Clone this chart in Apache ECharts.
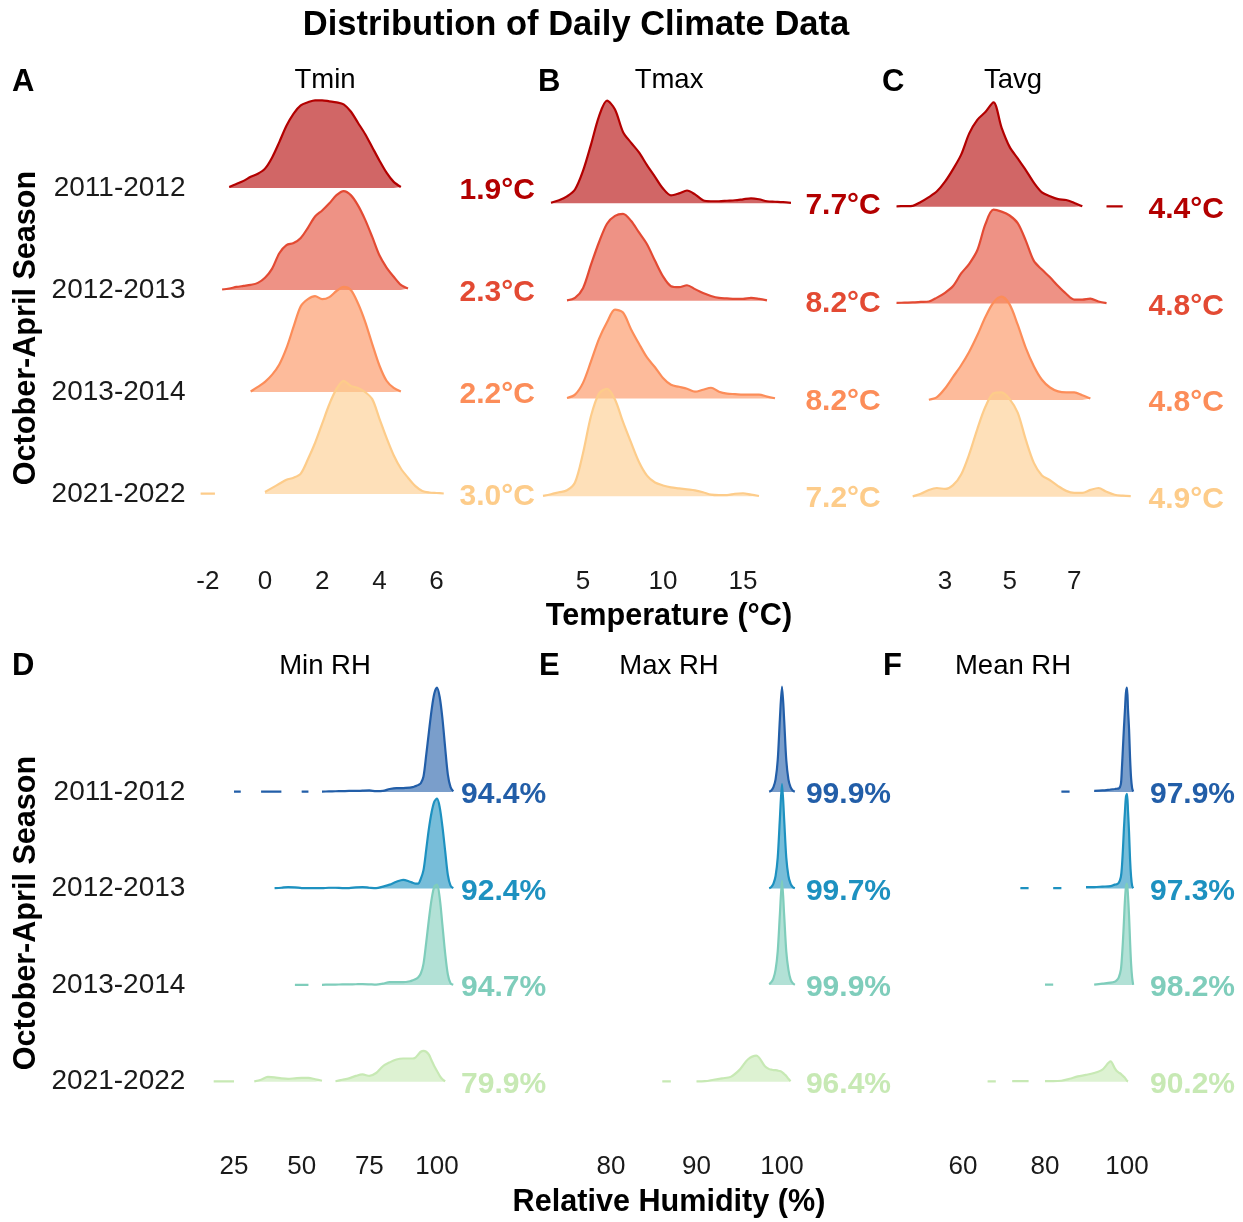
<!DOCTYPE html>
<html>
<head>
<meta charset="utf-8">
<title>Distribution of Daily Climate Data</title>
<script src="https://cdn.jsdelivr.net/npm/echarts@6/dist/echarts.min.js"></script>
<style>
  html, body { margin: 0; padding: 0; background: #fff; }
  #chart { width: 1243px; height: 1222px; }
</style>
</head>
<body>
<div id="chart"></div>
<script>
// seasons, top row first
var seasons = ['2011-2012', '2012-2013', '2013-2014', '2021-2022'];

// ridge heights are density, in percent of one row spacing
// null = below the ridge cut-off (gap in the outline)

// ---- Tmin (°C)
var tminX = [-2.25, -2, -1.75, -1.5, -1.25, -1, -0.75, -0.5, -0.25, 0, 0.25, 0.5, 0.75, 1, 1.25, 1.5, 1.75, 2,
  2.25, 2.5, 2.75, 3, 3.25, 3.5, 3.75, 4, 4.25, 4.5, 4.75, 5, 5.25, 5.5, 5.75, 6, 6.25, 6.5];
var tmin2011 = [null, null, null, null, 1, 4, 7, 11, 14, 19, 30, 45, 61, 73, 81, 84, 86, 86,
  85, 84, 82, 75, 64, 53, 40, 27, 15, 6, 1, null, null, null, null, null, null, null];
var tmin2012 = [null, null, null, 0.5, 1.5, 3, 4, 5, 7, 12, 21, 36, 44, 46, 51, 61, 72, 78,
  85, 93, 97, 93, 83, 69, 52, 34, 22, 13, 5, 1.5, null, null, null, null, null, null];
var tmin2013 = [null, null, null, null, null, null, null, 0.5, 5, 10, 17, 27, 43, 64, 84, 91, 94, 91,
  93, 99, 103, 100, 87, 69, 47, 26, 11, 4, 0.5, null, null, null, null, null, null, null];
var tmin2021 = [0.3, 0.3, 0.3, null, null, null, null, null, null, 2, 6, 10, 14, 16, 20, 34, 50, 69,
  88, 103, 111, 106, 104, 100, 93, 74, 55, 38, 25, 16, 8, 3, 1.5, 1, 0.5, null];
var tminMeans = [1.9, 2.3, 2.2, 3.0];
var tminTicks = [-2, 0, 2, 4, 6];

// ---- Tmax (°C)
var tmaxX = [2.5, 3, 3.5, 4, 4.5, 5, 5.5, 6, 6.5, 7, 7.5, 8, 8.5, 9, 9.5, 10, 10.5, 11, 11.5, 12,
  12.5, 13, 13.5, 14, 14.5, 15, 15.5, 16, 16.5, 17, 17.5, 18];
var tmax2011 = [null, 0.5, 3, 7, 14, 33, 60, 89, 105, 96, 73, 62, 52, 39, 27, 15, 8, 10, 13, 9,
  3, 2, 2, 2.5, 3, 4, 5, 4, 2, 1.5, 1, 0.3];
var tmax2012 = [null, null, null, 0.5, 3, 13, 37, 60, 79, 87, 89, 82, 70, 58, 41, 25, 15, 14, 16, 12,
  8, 5, 3, 2.5, 2, 2, 3, 2, 0.5, null, null, null];
var tmax2013 = [null, null, null, 0.5, 4, 16, 38, 61, 78, 91, 88, 71, 56, 42, 32, 21, 14, 12, 10, 7,
  9, 11, 7, 5, 4.5, 4, 4, 4, 2, 0.3, null, null];
var tmax2021 = [0.3, 2, 4, 6, 14, 44, 82, 105, 110, 99, 76, 55, 35, 21, 14, 11, 9, 8, 7, 6,
  4, 1.5, 1, 1, 2.5, 3, 1.5, 0.2, null, null, null, null];
var tmaxMeans = [7.7, 8.2, 8.2, 7.2];
var tmaxTicks = [5, 10, 15];

// ---- Tavg (°C)
var tavgX = [1.25, 1.5, 1.75, 2, 2.25, 2.5, 2.75, 3, 3.25, 3.5, 3.75, 4, 4.25, 4.5, 4.75, 5,
  5.25, 5.5, 5.75, 6, 6.25, 6.5, 6.75, 7, 7.25, 7.5, 7.75, 8, 8.25, 8.5, 8.75, 9];
var tavg2011 = [null, 0.5, 0.7, 1, 5, 10, 16, 26, 39, 54, 76, 90, 98, 108, 82, 62,
  50, 38, 25, 15, 11, 8, 7, 4, 0.5, null, null, 0.5, 0.5, 0.4, null, null];
var tavg2012 = [null, 0.5, 0.8, 1, 1.5, 2, 6, 11, 18, 31, 41, 55, 82, 97, 95, 91,
  83, 65, 44, 35, 27, 18, 10, 4, 4, 5, 2, 0.3, null, null, null, null];
var tavg2013 = [null, null, null, null, null, 0.3, 3, 12, 24, 36, 50, 67, 86, 101, 107, 99,
  78, 54, 35, 21, 13, 9, 8, 8, 5, 1.5, null, null, null, null, null, null];
var tavg2021 = [null, null, null, 0.3, 3, 7, 9, 8, 12, 23, 44, 70, 93, 107, 108, 101,
  87, 59, 35, 22, 17, 11, 6, 4, 4, 7, 9, 5, 2, 1, 0.5, null];
var tavgMeans = [4.4, 4.8, 4.8, 4.9];
var tavgTicks = [3, 5, 7];

// ---- Min RH (%)
var minRhX = [15, 17.5, 20, 22.5, 25, 27.5, 30, 32.5, 35, 37.5, 40, 42.5, 45, 47.5, 50, 52.5, 55, 57.5,
  60, 62.5, 65, 67.5, 70, 72.5, 75, 77.5, 80, 82.5, 85, 87.5,
  90, 91, 92, 93, 94, 95, 96, 97, 98, 99, 100, 101, 102, 103, 104, 105, 106, 107];
var minRh2011 = [null, null, null, null, 0.3, 0.3, null, null, 0.3, 0.3, 0.3, 0.3, null, null, 0.3, 0.3, null, 0.3,
  0.5, 0.7, 0.8, 1, 1, 1.3, 1.5, 0.8, 1, 3, 4, 4,
  4.5, 5, 6, 7, 9, 16, 38, 62, 85, 102, 108, 98, 76, 46, 18, 5, 0.5, null];
var minRh2012 = [null, null, null, null, null, null, null, null, null, null, 0.3, 0.8, 1.5, 1.2, 0.5, 0.3, 0.3, 0.3,
  0.8, 0.8, 0.5, 0.5, 1.2, 1.5, 0.8, 0.3, 2, 4, 7, 9,
  7, 6, 5, 5, 10, 19, 40, 62, 79, 90, 93, 84, 64, 39, 14, 3, 0.3, null];
var minRh2013 = [null, null, null, null, null, null, null, null, null, null, null, null, null, 0.3, 0.3, 0.3, null, 0.3,
  0.5, 0.6, 0.7, 0.8, 0.9, 1, 0.8, 0.5, 1.5, 3, 3, 3,
  4, 5, 6, 8, 12, 22, 44, 68, 89, 102, 104, 90, 62, 33, 11, 2, 0.3, null];
var minRh2021 = [null, 0.3, 0.3, 0.3, 0.3, null, null, 0.3, 2, 5, 4.5, 3.5, 3, 3.5, 4, 4, 2.5, 1,
  null, 0.5, 2, 3.5, 6, 7.5, 6, 9, 16, 20, 23, 24,
  24, 24, 25, 28, 31, 32, 31, 28, 22, 16, 11, 6, 2.5, 0.3, null, null, null, null];
var minRhMeans = [94.4, 92.4, 94.7, 79.9];
var minRhTicks = [25, 50, 75, 100];

// ---- Max RH (%)
var maxRhX = [85, 86, 87, 88, 89, 90, 91, 92, 93, 94, 95, 96, 97, 98,
  98.5, 98.75, 99, 99.25, 99.5, 99.75, 100, 100.25, 100.5, 100.75, 101, 101.25, 101.5, 102];
var maxRh2011 = [null, null, null, null, null, null, null, null, null, null, null, null, null, null,
  0.3, 1.5, 5, 13, 33, 75, 109, 75, 33, 13, 5, 1.5, 0.3, null];
var maxRh2012 = [null, null, null, null, null, null, null, null, null, null, null, null, null, null,
  0.3, 1.5, 5, 13, 32, 72, 108, 72, 32, 13, 5, 1.5, 0.3, null];
var maxRh2013 = [null, null, null, null, null, null, null, null, null, null, null, null, null, null,
  1, 3, 7, 16, 35, 73, 108, 73, 35, 16, 6, 2, 0.3, null];
var maxRh2021 = [null, 0.3, 0.3, null, null, 0.3, 0.5, 2, 3.5, 5, 12, 23, 27, 16,
  13, 12.5, 12, 12, 11.5, 11, 10, 8, 6, 3, 0.5, null, null, null];
var maxRhMeans = [99.9, 99.7, 99.9, 96.4];
var maxRhTicks = [80, 90, 100];

// ---- Mean RH (%)
var meanRhX = [46, 48, 50, 52, 54, 56, 58, 60, 62, 64, 66, 68, 70, 72, 74, 76, 78, 80, 82, 84, 86, 88, 90, 92, 94, 96,
  97, 97.5, 98, 98.5, 98.75, 99, 99.25, 99.5, 99.75, 100, 100.25, 100.5, 100.75, 101, 101.25, 101.5, 102];
var meanRh2011 = [null, null, null, null, null, null, null, null, null, null, null, null, null, null, null, null, null, null, null,
  0.3, 0.3, null, null, 1, 1.5, 2.5,
  3, 3.3, 3.5, 8, 24, 45, 66, 85, 103, 108, 85, 65, 35, 14, 4, 0.3, null];
var meanRh2012 = [null, null, null, null, null, null, null, null, null, null, null, null, null, null,
  0.5, 0.5, null, null, 0.5, 0.5, null, null, 1.5, 1.5, 2, 2.5,
  4, 4.5, 6, 12, 22, 40, 62, 80, 95, 98, 80, 58, 30, 12, 3, 0.3, null];
var meanRh2013 = [null, null, null, null, null, null, null, null, null, null, null, null, null, null, null, null, null,
  0.5, 0.5, null, null, null, null, 0.5, 1.5, 2.5,
  3.5, 5, 8, 16, 28, 45, 66, 88, 102, 105, 92, 72, 45, 22, 8, 0.3, null];
var meanRh2021 = [null, null, null, null, null, null, null, null, null, null, 0.3, 0.3, null, 0.5, 0.5, 0.5, null,
  0.5, 0.5, 1, 3, 5.5, 7, 9, 12.5, 21,
  14, 11, 9.5, 8, 7, 6, 5, 4, 2.5, 1, 0.3, null, null, null, null, null, null];
var meanRhMeans = [97.9, 97.3, 98.2, 90.2];
var meanRhTicks = [60, 80, 100];

// ---------------------------------------------------------------
var FONT = "'Liberation Sans', Arial, Helvetica, sans-serif";
var tempColors = ['#b30000', '#e34a33', '#fc8d59', '#fdcc8a'];
var rhColors = ['#225ea8', '#1d91c0', '#7fcdbb', '#c7e9b4'];

function fade(hex, a) {
  var r = parseInt(hex.slice(1, 3), 16), g = parseInt(hex.slice(3, 5), 16), b = parseInt(hex.slice(5, 7), 16);
  return 'rgba(' + r + ',' + g + ',' + b + ',' + a + ')';
}

var panels = [
  { xs: tminX, ridges: [tmin2011, tmin2012, tmin2013, tmin2021], means: tminMeans, unit: '°C', colors: tempColors,
    ticks: tminTicks, grid: { left: 193.5, top: 86, width: 343.2, height: 459 }, xMin: -2.5, xMax: 9.5, yMax: 4.0, labelX: 6.8, rowAxis: true },
  { xs: tmaxX, ridges: [tmax2011, tmax2012, tmax2013, tmax2021], means: tmaxMeans, unit: '°C', colors: tempColors,
    ticks: tmaxTicks, grid: { left: 535, top: 86, width: 352, height: 459 }, xMin: 2, xMax: 24, yMax: 4.2, labelX: 18.9 },
  { xs: tavgX, ridges: [tavg2011, tavg2012, tavg2013, tavg2021], means: tavgMeans, unit: '°C', colors: tempColors,
    ticks: tavgTicks, grid: { left: 880.4, top: 86, width: 339.2, height: 459 }, xMin: 1, xMax: 11.5, yMax: 4.25, labelX: 9.3 },
  { xs: minRhX, ridges: [minRh2011, minRh2012, minRh2013, minRh2021], means: minRhMeans, unit: '%', colors: rhColors,
    ticks: minRhTicks, grid: { left: 193.4, top: 676, width: 351.9, height: 454 }, xMin: 10, xMax: 140, yMax: 4.2, labelX: 108.9, rowAxis: true },
  { xs: maxRhX, ridges: [maxRh2011, maxRh2012, maxRh2013, maxRh2021], means: maxRhMeans, unit: '%', colors: rhColors,
    ticks: maxRhTicks, grid: { left: 585.35, top: 676, width: 299.25, height: 454 }, xMin: 77, xMax: 112, yMax: 4.2, labelX: 102.8 },
  { xs: meanRhX, ridges: [meanRh2011, meanRh2012, meanRh2013, meanRh2021], means: meanRhMeans, unit: '%', colors: rhColors,
    ticks: meanRhTicks, grid: { left: 897.4, top: 676, width: 340.3, height: 454 }, xMin: 44, xMax: 127, yMax: 4.2, labelX: 105.6 }
];

var grids = [], xAxes = [], yAxes = [], series = [];

panels.forEach(function (p, pi) {
  grids.push(p.grid);
  xAxes.push({
    type: 'value', gridIndex: pi, min: p.xMin, max: p.xMax,
    axisLine: { show: false }, axisTick: { show: false }, splitLine: { show: false },
    axisLabel: { customValues: p.ticks, fontSize: 26, color: '#1a1a1a', margin: 24, fontFamily: FONT }
  });
  yAxes.push({
    type: 'value', gridIndex: pi, min: -0.5, max: p.yMax,
    axisLine: { show: false }, axisTick: { show: false }, splitLine: { show: false },
    axisLabel: p.rowAxis ? {
      customValues: [0, 1, 2, 3], fontSize: 28, color: '#1a1a1a', margin: 8, fontFamily: FONT,
      formatter: function (v) { return seasons[3 - Math.round(v)]; }
    } : { show: false }
  });

  // top row drawn first so lower rows sit in front; area filled down to the row baseline
  p.ridges.forEach(function (h, i) {
    var row = 3 - i;
    series.push({
      type: 'line', xAxisIndex: pi, yAxisIndex: pi, symbol: 'none', smooth: 0.3,
      connectNulls: false, silent: true,
      lineStyle: { color: p.colors[i], width: 2.2 },
      areaStyle: { color: fade(p.colors[i], 0.6), opacity: 1, origin: row },
      data: p.xs.map(function (x, k) { return [x, h[k] == null ? '-' : row + h[k] / 100]; })
    });
  });

  series.push({
    type: 'scatter', xAxisIndex: pi, yAxisIndex: pi, symbolSize: 0, silent: true,
    itemStyle: { opacity: 1 },
    data: p.means.map(function (m, i) {
      return { value: [p.labelX, 3 - i], label: { color: p.colors[i] } };
    }),
    label: {
      show: true, position: 'right', distance: 0, offset: [0, 3], fontSize: 30, fontWeight: 'bold', fontFamily: FONT,
      formatter: function (d) { return p.means[d.dataIndex].toFixed(1) + p.unit; }
    }
  });
});

function txt(s, x, y, font, align, rot) {
  return {
    type: 'text', x: x, y: y, rotation: rot || 0, silent: true,
    style: {
      text: s, font: font, fill: '#000',
      textAlign: align || 'center', align: align || 'center',
      textVerticalAlign: 'middle', verticalAlign: 'middle'
    }
  };
}

var bold = function (n) { return 'bold ' + n + 'px ' + FONT; };
var reg = function (n) { return n + 'px ' + FONT; };

var texts = [
  txt('Distribution of Daily Climate Data', 576, 25, bold(34.5)),
  txt('A', 12, 82, bold(31), 'left'), txt('B', 538, 82, bold(31), 'left'), txt('C', 882, 82, bold(31), 'left'),
  txt('D', 12, 666, bold(31), 'left'), txt('E', 539, 666, bold(31), 'left'), txt('F', 883, 666, bold(31), 'left'),
  txt('Tmin', 325, 80, reg(27.5)), txt('Tmax', 669, 80, reg(27.5)), txt('Tavg', 1013, 80, reg(27.5)),
  txt('Min RH', 325, 666, reg(27.5)), txt('Max RH', 669, 666, reg(27.5)), txt('Mean RH', 1013, 666, reg(27.5)),
  txt('Temperature (°C)', 669, 617, bold(30.6)),
  txt('Relative Humidity (%)', 669, 1203, bold(30.6)),
  txt('October-April Season', 27, 328, bold(30.6), 'center', Math.PI / 2),
  txt('October-April Season', 27, 913, bold(30.6), 'center', Math.PI / 2)
];

var chart = echarts.init(document.getElementById('chart'));
chart.setOption({
  backgroundColor: '#fff',
  animation: false,
  textStyle: { fontFamily: FONT },
  grid: grids,
  xAxis: xAxes,
  yAxis: yAxes,
  series: series,
  graphic: texts
});
</script>
</body>
</html>
